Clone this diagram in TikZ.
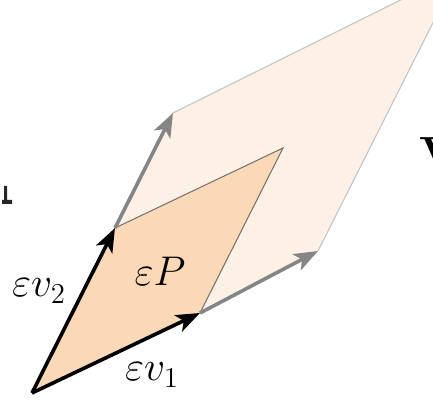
\documentclass[tikz,border=0pt]{standalone}
\usetikzlibrary{arrows.meta,calc}
\definecolor{smallfill}{HTML}{FCD9B6}
\definecolor{bigfill}{HTML}{FDF1E6}
\definecolor{bigedge}{HTML}{C8C8C8}
\definecolor{smalledge}{HTML}{6E6E6E}
\definecolor{grayarrow}{HTML}{858585}
\tikzset{
  vecarrow/.style={line width=1.8pt,-{Stealth[length=12pt,width=9pt,inset=3pt]}},
  blackvec/.style={vecarrow,black},
  grayvec/.style={vecarrow,grayarrow},
  lbl/.style={font=\fontsize{22}{26}\selectfont,inner sep=0pt},
}
\begin{document}
\begin{tikzpicture}[x=0.5pt,y=-0.5pt]
\useasboundingbox (0,0) rectangle (433,400);
\coordinate (O) at (32,393);
\coordinate (A) at (200,313);
\coordinate (B) at (115,228);
\coordinate (C) at ($(A)+(B)-(O)$);
\coordinate (A2) at (318,251);
\coordinate (B2) at (173,113);
\coordinate (C2) at ($(A2)+(B2)-(O)$);
% large parallelogram
\fill[bigfill] (O) -- (A2) -- (C2) -- (B2) -- cycle;
\draw[bigedge,line width=0.6pt] (B2) -- (C2) -- (A2);
% small parallelogram
\fill[smallfill] (O) -- (A) -- (C) -- (B) -- cycle;
\draw[smalledge,line width=0.5pt] (B) -- (C) -- (A);
% vectors
\draw[grayvec] (A) -- (A2);
\draw[grayvec] (B) -- (B2);
\draw[blackvec] (O) -- (A);
\draw[blackvec] (O) -- (B);
% labels
\node[lbl] (lv1) at (152,375) {$\varepsilon v_1$};
\node[lbl] (lv2) at (39,291) {$\varepsilon v_2$};
\node[lbl] (lP) at (160,271) {$\varepsilon P$};
% cropped fragments at the edges
\node[lbl,anchor=north west,font=\fontsize{24}{28}\selectfont\bfseries] (vfrag) at (419,137) {V};
\fill[black!85] (4,186) -- (7,186) -- (7,200) -- (12,200) -- (12,204) -- (2,204) -- (2,200) -- (4,200) -- cycle;
\end{tikzpicture}
\end{document}
